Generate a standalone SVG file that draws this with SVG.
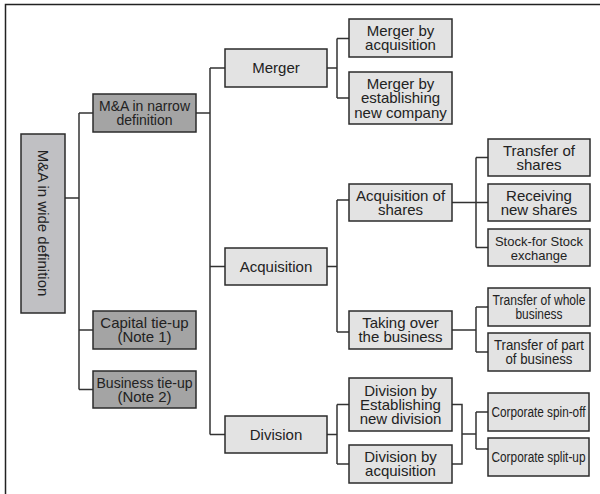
<svg xmlns="http://www.w3.org/2000/svg" width="600" height="494" viewBox="0 0 600 494">
  <style>
    .frame { fill: none; stroke: #222; stroke-width: 1.5; }
    .box { stroke: #2b2b2b; stroke-width: 1.5; }
    .dark { fill: #a4a4a4; }
    .mid { fill: #c0c0c3; }
    .light { fill: #e3e3e3; }
    .wire { fill: none; stroke: #333; stroke-width: 1.5; }
    text { font-family: "Liberation Sans", Arial, sans-serif; font-size: 15px; fill: #222; text-anchor: middle; }
    .s14 { font-size: 14px; }
    .s13 { font-size: 13px; }
  </style>
  <rect width="600" height="494" fill="#fff"/>
  <!-- outer frame, only top and left edges fall inside the page -->
  <path class="frame" d="M5.5,494 V4.5 H600"/>

  <g id="connectors">
    <path class="wire" d="M65,198 H79 M79,113 V389.5 M79,113 H93 M79,330 H93 M79,389.5 H93"/>
    <path class="wire" d="M196,113 H210 M210,68 V434.5 M210,68 H225 M210,266.5 H225 M210,434.5 H225"/>
    <path class="wire" d="M327,68 H337 M337,38.5 V98 M337,38.5 H349 M337,98 H349"/>
    <path class="wire" d="M327,266.5 H337 M337,200 V332 M337,200 H349 M337,332 H349"/>
    <path class="wire" d="M452,202.5 H488 M476,157.5 V247.5 M476,157.5 H488 M476,247.5 H488"/>
    <path class="wire" d="M452,330 H476 M476,307 V352 M476,307 H488 M476,352 H488"/>
    <path class="wire" d="M327,434.5 H337 M337,404.5 V464 M337,404.5 H349 M337,464 H349"/>
    <path class="wire" d="M452,404.5 H462 V464 H452 M462,434 H476 M476,412 V449 M476,412 H488 M476,449 H488"/>
  </g>

  <g id="wide">
    <rect class="box mid" x="21" y="134" width="44" height="179"/>
    <text transform="translate(43,223) rotate(90)" x="0" y="5.3">M&amp;A in wide definition</text>
  </g>

  <g id="narrow">
    <rect class="box dark" x="93" y="94" width="103" height="38"/>
    <text class="s14" x="144.5" y="111.4">M&amp;A in narrow</text>
    <text class="s14" x="144.5" y="125.4">definition</text>
  </g>
  <g id="capital">
    <rect class="box dark" x="93" y="311" width="103" height="38"/>
    <text x="144.5" y="328.2">Capital tie-up</text>
    <text x="144.5" y="342.4">(Note 1)</text>
  </g>
  <g id="business">
    <rect class="box dark" x="93" y="371" width="103" height="37"/>
    <text class="s14" x="144.5" y="387.7" textLength="96" lengthAdjust="spacingAndGlyphs">Business tie-up</text>
    <text x="144.5" y="401.9">(Note 2)</text>
  </g>

  <g id="merger">
    <rect class="box light" x="225" y="49" width="102" height="38"/>
    <text x="276" y="73.3">Merger</text>
  </g>
  <g id="acquisition">
    <rect class="box light" x="225" y="248" width="102" height="37"/>
    <text x="276" y="271.8">Acquisition</text>
  </g>
  <g id="division">
    <rect class="box light" x="225" y="416" width="102" height="37"/>
    <text x="276" y="439.8">Division</text>
  </g>

  <g id="merger-acq">
    <rect class="box light" x="349" y="19" width="103" height="38"/>
    <text x="400.5" y="36.2">Merger by</text>
    <text x="400.5" y="50.4">acquisition</text>
  </g>
  <g id="merger-new">
    <rect class="box light" x="349" y="72" width="103" height="52"/>
    <text x="400.5" y="89.1">Merger by</text>
    <text x="400.5" y="103.3">establishing</text>
    <text x="400.5" y="117.5">new company</text>
  </g>
  <g id="acq-shares">
    <rect class="box light" x="349" y="184" width="103" height="37"/>
    <text x="400.5" y="200.7">Acquisition of</text>
    <text x="400.5" y="214.9">shares</text>
  </g>
  <g id="taking-over">
    <rect class="box light" x="349" y="311" width="103" height="38"/>
    <text x="400.5" y="328.2">Taking over</text>
    <text x="400.5" y="342.4">the business</text>
  </g>
  <g id="div-new">
    <rect class="box light" x="349" y="378" width="103" height="53"/>
    <text x="400.5" y="395.6">Division by</text>
    <text x="400.5" y="409.8">Establishing</text>
    <text x="400.5" y="424">new division</text>
  </g>
  <g id="div-acq">
    <rect class="box light" x="349" y="445" width="103" height="38"/>
    <text x="400.5" y="462.2">Division by</text>
    <text x="400.5" y="476.4">acquisition</text>
  </g>

  <g id="transfer-shares">
    <rect class="box light" x="488" y="139" width="102" height="37"/>
    <text x="539" y="155.7">Transfer of</text>
    <text x="539" y="169.9">shares</text>
  </g>
  <g id="new-shares">
    <rect class="box light" x="488" y="184" width="102" height="37"/>
    <text x="539" y="200.7">Receiving</text>
    <text x="539" y="214.9">new shares</text>
  </g>
  <g id="stock-exchange">
    <rect class="box light" x="488" y="229" width="102" height="37"/>
    <text class="s13" x="539" y="245.5">Stock-for Stock</text>
    <text class="s13" x="539" y="259.5">exchange</text>
  </g>
  <g id="whole-business">
    <rect class="box light" x="488" y="288" width="102" height="38"/>
    <text class="s14" x="539" y="305" textLength="93" lengthAdjust="spacingAndGlyphs">Transfer of whole</text>
    <text class="s14" x="539" y="319" textLength="47" lengthAdjust="spacingAndGlyphs">business</text>
  </g>
  <g id="part-business">
    <rect class="box light" x="488" y="333" width="102" height="38"/>
    <text class="s14" x="539" y="350" textLength="90" lengthAdjust="spacingAndGlyphs">Transfer of part</text>
    <text class="s14" x="539" y="364.2" textLength="67" lengthAdjust="spacingAndGlyphs">of business</text>
  </g>
  <g id="spin-off">
    <rect class="box light" x="488" y="393" width="101" height="38"/>
    <text class="s14" x="538.5" y="417" textLength="94" lengthAdjust="spacingAndGlyphs">Corporate spin-off</text>
  </g>
  <g id="split-up">
    <rect class="box light" x="488" y="438" width="101" height="38"/>
    <text class="s14" x="538.5" y="462" textLength="94" lengthAdjust="spacingAndGlyphs">Corporate split-up</text>
  </g>
</svg>
